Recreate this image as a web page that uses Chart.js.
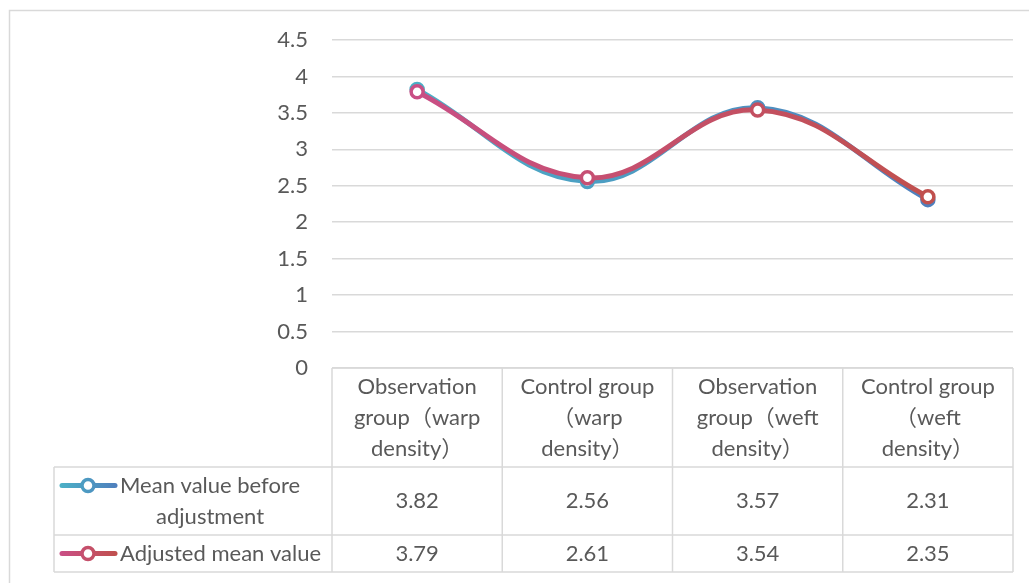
<!DOCTYPE html>
<html>
<head>
<meta charset="utf-8">
<script src="https://cdn.jsdelivr.net/npm/chart.js@4.4.1/dist/chart.umd.min.js"></script>
<style>
  html, body { margin: 0; padding: 0; background: #fff; }
  #wrap { width: 1029px; height: 583px; position: relative; }
</style>
</head>
<body>
<div id="wrap"><canvas id="c" width="1029" height="583"></canvas></div>
<script>
// ---- data ----
const categories = [
  ['Observation', 'group（warp', 'density）'],
  ['Control group', '（warp', 'density）'],
  ['Observation', 'group（weft', 'density）'],
  ['Control group', '（weft', 'density）']
];
const seriesNames = [
  ['Mean value before', 'adjustment'],
  ['Adjusted mean value']
];
const beforeValues = [3.82, 2.56, 3.57, 2.31];
const adjustedValues = [3.79, 2.61, 3.54, 2.35];
const yMin = 0, yMax = 4.5, yStep = 0.5;

// ---- styles ----
const FONT_FAMILY = 'Lato, "Noto Sans CJK SC", sans-serif';
const FONT_SIZE = 22;
const TEXT_COLOR = '#595959';
const RULE_COLOR = '#d9d9d9';
const LINE_HEIGHT = 31;
const seriesColors = [
  ['#4bb0c6', '#4f7fbd'],
  ['#c94f86', '#c0504d']
];

function hGradient(ctx, x0, x1, stops) {
  const g = ctx.createLinearGradient(x0, 0, x1, 0);
  g.addColorStop(0, stops[0]);
  g.addColorStop(1, stops[1]);
  return g;
}

function seriesStroke(idx) {
  return (c) => {
    const chart = c.chart;
    const xs = chart.scales && chart.scales.x;
    if (!chart.chartArea || !xs) return seriesColors[idx][1];
    const x0 = xs.getPixelForValue(0) - 8;
    const x1 = xs.getPixelForValue(categories.length - 1) + 8;
    return hGradient(chart.ctx, x0, x1, seriesColors[idx]);
  };
}

// light frame around the whole chart
const framePlugin = {
  id: 'frame',
  beforeDraw(chart) {
    const ctx = chart.ctx;
    ctx.save();
    ctx.strokeStyle = RULE_COLOR;
    ctx.lineWidth = 1.5;
    ctx.beginPath();
    ctx.moveTo(9.5, chart.height);
    ctx.lineTo(9.5, 10.5);
    ctx.lineTo(chart.width, 10.5);
    ctx.stroke();
    ctx.restore();
  }
};

// data table under the plot: category header, one row per series with its key
const tablePlugin = {
  id: 'dataTable',
  afterDraw(chart) {
    const ctx = chart.ctx;
    const xs = chart.scales.x;
    const area = chart.chartArea;
    const colW = xs.getPixelForValue(1) - xs.getPixelForValue(0);
    const keyLeft = 54;
    const headerLines = Math.max(...categories.map(c => c.length));
    const headerTop = area.bottom;
    const headerBottom = headerTop + headerLines * LINE_HEIGHT + 6;
    const rowBounds = [headerBottom];
    seriesNames.forEach(n => rowBounds.push(rowBounds[rowBounds.length - 1] + n.length * LINE_HEIGHT + 6));
    const tableBottom = rowBounds[rowBounds.length - 1];

    ctx.save();
    ctx.strokeStyle = RULE_COLOR;
    ctx.lineWidth = 1.5;
    ctx.beginPath();
    // horizontal rules
    ctx.moveTo(area.left, headerTop); ctx.lineTo(area.right, headerTop);
    rowBounds.forEach(y => { ctx.moveTo(keyLeft, y); ctx.lineTo(area.right, y); });
    // vertical rules
    ctx.moveTo(keyLeft, headerBottom); ctx.lineTo(keyLeft, tableBottom);
    for (let i = 0; i <= categories.length; i++) {
      const x = xs.getPixelForValue(0) - colW / 2 + i * colW;
      ctx.moveTo(x, headerTop); ctx.lineTo(x, tableBottom);
    }
    ctx.stroke();

    ctx.fillStyle = TEXT_COLOR;
    ctx.font = FONT_SIZE + 'px ' + FONT_FAMILY;
    ctx.textBaseline = 'middle';
    ctx.textAlign = 'center';
    // header
    categories.forEach((lines, i) => {
      const cx = xs.getPixelForValue(i);
      lines.forEach((t, j) => ctx.fillText(t, cx, headerTop + 3 + LINE_HEIGHT * (j + 0.5)));
    });
    // values
    const seriesValues = [beforeValues, adjustedValues];
    seriesValues.forEach((vals, r) => {
      const cy = (rowBounds[r] + rowBounds[r + 1]) / 2;
      vals.forEach((v, i) => ctx.fillText(v.toFixed(2), xs.getPixelForValue(i), cy));
    });
    // series keys
    seriesNames.forEach((lines, r) => {
      const top = rowBounds[r] + 3;
      const ky = top + LINE_HEIGHT / 2;
      const kx0 = 60, kx1 = 117, kc = 88;
      const grad = hGradient(ctx, kx0, kx1, seriesColors[r]);
      ctx.strokeStyle = grad;
      ctx.lineWidth = 5;
      ctx.lineCap = 'round';
      ctx.beginPath(); ctx.moveTo(kx0 + 2, ky); ctx.lineTo(kx1 - 2, ky); ctx.stroke();
      ctx.lineWidth = 3.5;
      ctx.fillStyle = '#fff';
      ctx.beginPath(); ctx.arc(kc, ky, 6, 0, Math.PI * 2); ctx.fill(); ctx.stroke();
      ctx.fillStyle = TEXT_COLOR;
      const textLeft = 120;
      const widest = Math.max(...lines.map(t => ctx.measureText(t).width));
      const tcx = textLeft + widest / 2;
      lines.forEach((t, j) => ctx.fillText(t, tcx, top + LINE_HEIGHT * (j + 0.5)));
    });
    ctx.restore();
  }
};

new Chart(document.getElementById('c'), {
  type: 'line',
  data: {
    labels: categories,
    datasets: [
      {
        label: seriesNames[0].join(' '),
        data: beforeValues,
        order: 2,
        borderColor: seriesStroke(0),
        pointBorderColor: seriesStroke(0),
        pointBackgroundColor: '#ffffff',
        borderWidth: 5,
        pointRadius: 6,
        pointBorderWidth: 3.5,
        tension: 0.4,
        clip: false
      },
      {
        label: seriesNames[1].join(' '),
        data: adjustedValues,
        order: 1,
        borderColor: seriesStroke(1),
        pointBorderColor: seriesStroke(1),
        pointBackgroundColor: '#ffffff',
        borderWidth: 5,
        pointRadius: 6,
        pointBorderWidth: 3.5,
        tension: 0.4,
        clip: false
      }
    ]
  },
  options: {
    responsive: false,
    animation: false,
    events: [],
    layout: { padding: { left: 0, right: 16, top: 40, bottom: 215 } },
    plugins: { legend: { display: false }, tooltip: { enabled: false }, title: { display: false } },
    scales: {
      x: {
        type: 'category',
        offset: true,
        display: false
      },
      y: {
        min: yMin,
        max: yMax,
        border: { display: false },
        grid: { color: RULE_COLOR, lineWidth: 1.5, drawTicks: false },
        ticks: {
          stepSize: yStep,
          padding: 24,
          color: TEXT_COLOR,
          font: { family: FONT_FAMILY, size: FONT_SIZE },
          callback: (v) => String(v)
        },
        afterFit(scale) { scale.width = 332; }
      }
    }
  },
  plugins: [framePlugin, tablePlugin]
});
</script>
</body>
</html>
